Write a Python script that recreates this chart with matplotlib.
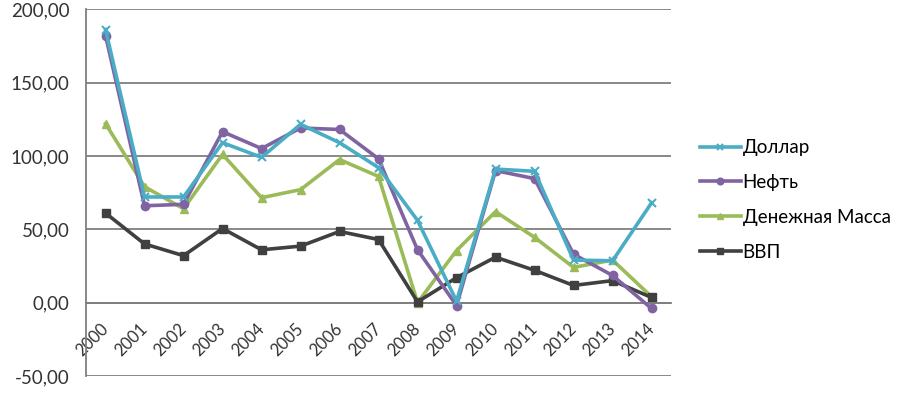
#!/usr/bin/env python3
"""Growth indices 2000-2014: dollar, oil, money supply, GDP."""

import matplotlib
matplotlib.use("Agg")
import matplotlib.pyplot as plt

years = [str(y) for y in range(2000, 2015)]
dollar = [186, 72, 72, 109, 99, 121.5, 109, 92, 56, 1, 91, 89.5, 29, 28.5, 68]
oil = [182, 66, 67, 116.5, 105, 119, 118, 98, 36, -2, 90, 84.5, 33, 18.5, -4]
money = [122, 79, 64, 101, 71.5, 77, 97.5, 86, 0, 35.5, 62, 44.5, 24, 29, 4]
gdp = [61, 40, 32, 50.5, 36, 38.5, 48.5, 43, 0.5, 17, 31, 22, 11.7, 15, 3.5]
yticks = [-50, 0, 50, 100, 150, 200]

plt.rcParams["font.family"] = ["Lato", "DejaVu Sans"]

fig = plt.figure(figsize=(9, 3.98), dpi=100)
ax = fig.add_axes([0.0956, 0.0553, 0.65, 0.9217])

x = list(range(len(years)))
ax.plot(x, dollar, color="#4BACC6", lw=2.6, marker="x", ms=6, mew=1.5, label="Доллар", zorder=5)
ax.plot(x, oil, color="#8064A2", lw=2.6, marker="o", ms=6, label="Нефть", zorder=4)
ax.plot(x, money, color="#9BBB59", lw=2.6, marker="^", ms=6, label="Денежная Масса", zorder=3)
ax.plot(x, gdp, color="#404040", lw=2.6, marker="s", ms=6, label="ВВП", zorder=3)

# spine position first: moving it resets the ticks
for s in ["top", "right"]:
    ax.spines[s].set_visible(False)
ax.spines["bottom"].set_position(("data", 0))
ax.spines["bottom"].set_color("#7f7f7f")
ax.spines["bottom"].set_linewidth(1.3)
ax.spines["left"].set_color("#7f7f7f")
ax.spines["left"].set_linewidth(1.3)

ax.set_xlim(-0.5, len(years) - 0.5)
ax.set_ylim(-50, 200)
ax.tick_params(axis="both", length=0, labelcolor="#333333")
ax.tick_params(axis="x", pad=17, labelsize=12)
ax.tick_params(axis="y", pad=12, labelsize=13.5)
ax.set_yticks(yticks)
ax.set_yticklabels([f"{v:.2f}".replace(".", ",") for v in yticks])
ax.set_xticks(x)
ax.set_xticklabels(years, rotation=45, ha="right", va="center",
                   rotation_mode="anchor")
ax.grid(axis="y", color="#7f7f7f", lw=1.3)
ax.set_axisbelow(True)

ax.legend(loc="center left", bbox_to_anchor=(1.02, 0.48), frameon=False,
          fontsize=13.5, handlelength=2.2, handletextpad=0.1, labelspacing=0.95,
          markerscale=0.8)

fig.savefig("out.png", dpi=100)
